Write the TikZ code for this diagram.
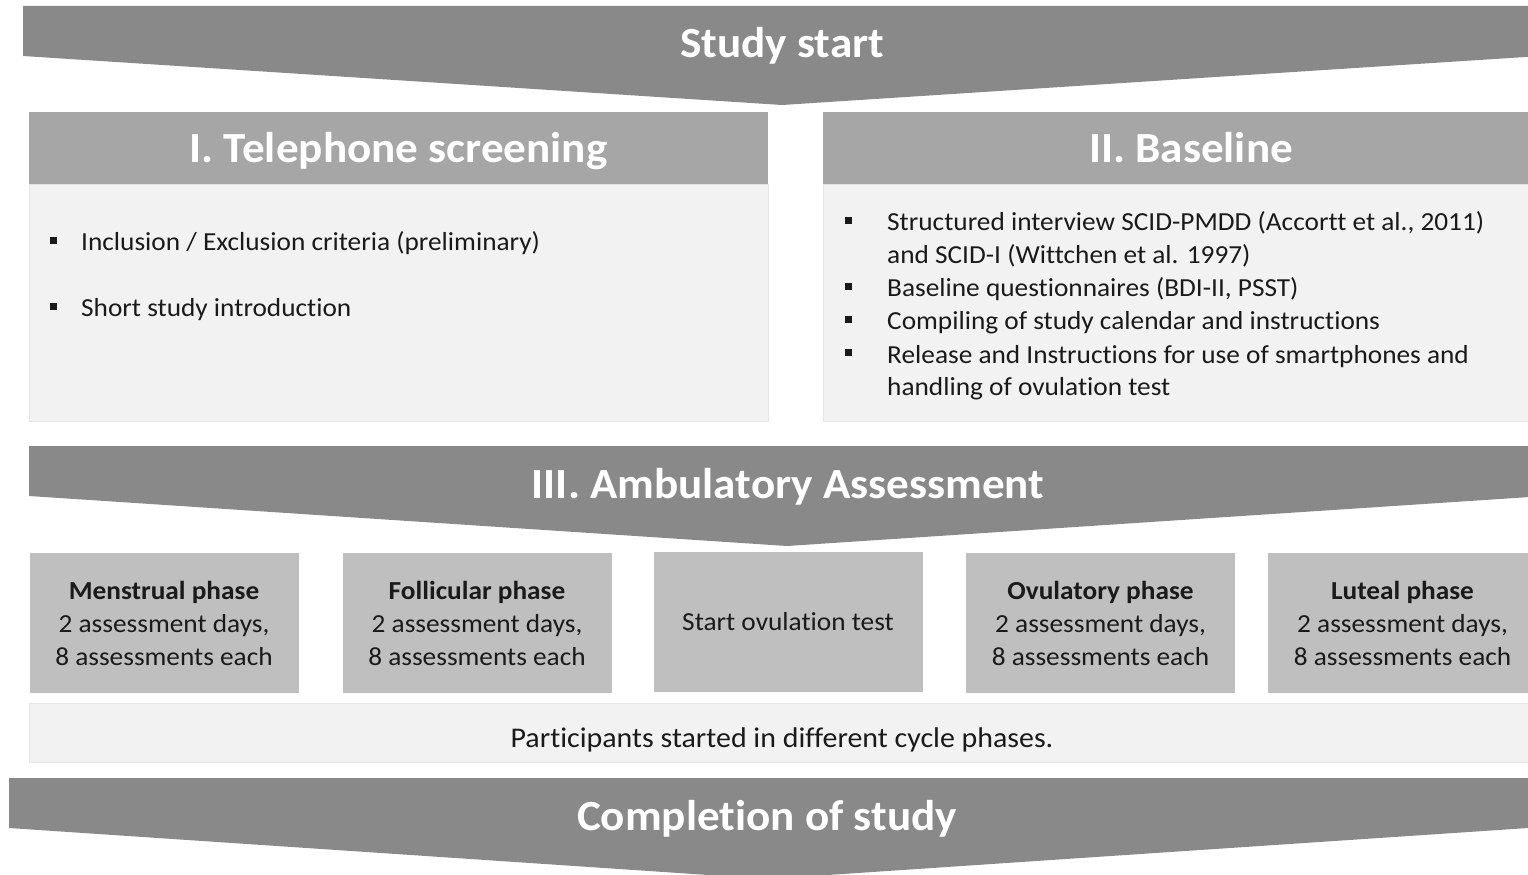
\documentclass[tikz,border=0pt]{standalone}
\usepackage{fontspec}
\setmainfont{Carlito}[Ligatures=NoCommon,FakeStretch=1.05]
\definecolor{chev}{HTML}{898989}
\definecolor{hdr}{HTML}{A6A6A6}
\definecolor{body}{HTML}{F2F2F2}
\definecolor{phase}{HTML}{BFBFBF}
\definecolor{ink}{HTML}{1A1A1A}
\tikzset{
  chevtext/.style={anchor=base,text=white,font=\bfseries\fontsize{43}{50}\selectfont,inner sep=0pt},
  hdrbox/.style={fill=hdr,inner sep=0pt,minimum height=72pt},
  hdrtext/.style={anchor=base,text=white,font=\bfseries\fontsize{43}{50}\selectfont,inner sep=0pt},
  bodybox/.style={fill=body,draw=white!90!black,line width=0.6pt,inner sep=0pt,minimum height=237pt},
  phasebox/.style={fill=phase,text=ink,inner sep=0pt,minimum width=269pt,minimum height=140pt,align=center,font=\fontsize{26}{33}\selectfont},
  item/.style={anchor=base west,text=ink,inner sep=0pt,font=\fontsize{26}{33}\selectfont},
  bul/.style={fill=ink,inner sep=0pt,minimum size=7pt},
  notebox/.style={fill=body,draw=white!90!black,line width=0.6pt,inner sep=0pt,minimum width=1506pt,minimum height=59pt},
  notetext/.style={anchor=base,text=ink,inner sep=0pt,font=\fontsize{28.5}{34}\selectfont}
}
\begin{document}
\begin{tikzpicture}[x=1pt,y=-1pt]
\useasboundingbox (0,0) rectangle (1528,875);
\begin{scope}
\clip (0,0) rectangle (1528,875);
% Study start chevron
\fill[chev] (23,6) -- (1541,6) -- (1541,56) -- (782,105) -- (23,56) -- cycle;
\node[chevtext] (start) at (782,58) {Study start};

% Telephone screening
\node[bodybox,minimum width=739pt] (tbody) at (398.5,302.5) {};
\node[hdrbox,minimum width=739pt] (thdr) at (398.5,148) {};
\node[hdrtext] (thdrt) at (398.5,162) {I. Telephone screening};
\node[bul] (tb1) at (53,240) {};
\node[item] (t1) at (81,250) {Inclusion / Exclusion criteria (preliminary)};
\node[bul] (tb2) at (53,306) {};
\node[item] (t2) at (81,316) {Short study introduction};

% Baseline
\node[bodybox,minimum width=736pt] (bbody) at (1191,302.5) {};
\node[hdrbox,minimum width=736pt] (bhdr) at (1191,148) {};
\node[hdrtext] (bhdrt) at (1191,162) {II. Baseline};
\node[bul] (bb1) at (848,220) {};
\node[item] (b1a) at (887,230) {Structured interview SCID-PMDD (Accortt et al., 2011)};
\node[item] (b1b) at (887,263) {and SCID-I (Wittchen et al. 1997)};
\node[bul] (bb2) at (848,286) {};
\node[item] (b2) at (887,296) {Baseline questionnaires (BDI-II, PSST)};
\node[bul] (bb3) at (848,319) {};
\node[item] (b3) at (887,329) {Compiling of study calendar and instructions};
\node[bul] (bb4) at (848,352) {};
\node[item] (b4a) at (887,363) {Release  and Instructions for use of smartphones and};
\node[item] (b4b) at (887,395) {handling of ovulation test};

% Ambulatory assessment chevron
\fill[chev] (29,446) -- (1545,446) -- (1545,496) -- (787,546) -- (29,496) -- cycle;
\node[chevtext] (amb) at (788,498) {III. Ambulatory Assessment};

% Phase boxes
\node[phasebox] (p1) at (164,623) {\textbf{Menstrual phase}\\2 assessment days,\\8 assessments each};
\node[phasebox] (p2) at (477,623) {\textbf{Follicular phase}\\2 assessment days,\\8 assessments each};
\node[phasebox] (p3) at (788,622) {Start ovulation test};
\node[phasebox] (p4) at (1100.5,623) {\textbf{Ovulatory phase}\\2 assessment days,\\8 assessments each};
\node[phasebox] (p5) at (1402.5,623) {\textbf{Luteal phase}\\2 assessment days,\\8 assessments each};

% Note
\node[notebox] (note) at (782,732.5) {};
\node[notetext] (notet) at (782,747) {Participants started in different cycle phases.};

% Completion chevron
\fill[chev] (9,778) -- (1528,778) -- (1528,828) -- (768,879) -- (9,828) -- cycle;
\node[chevtext] (done) at (767,830) {Completion of study};
\end{scope}
\end{tikzpicture}
\end{document}
